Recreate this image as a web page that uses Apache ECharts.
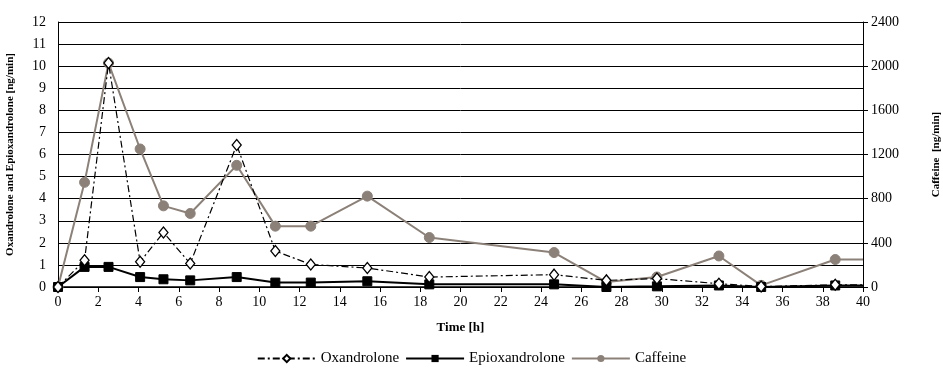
<!DOCTYPE html>
<html><head><meta charset="utf-8">
<script src="https://cdn.jsdelivr.net/npm/echarts@6/dist/echarts.min.js"></script>
<style>html,body{margin:0;padding:0;background:#fff}#c{width:943px;height:372px}</style>
</head><body><div id="c"></div>
<script>
const times = [0, 1.32, 2.51, 4.08, 5.24, 6.57, 8.88, 10.8, 12.56, 15.37, 18.45, 24.65, 27.25, 29.76, 32.84, 34.94, 38.62, 40];
const oxandrolone = [0, 1.21, 10.14, 1.14, 2.47, 1.06, 6.43, 1.63, 1.02, 0.86, 0.45, 0.56, 0.30, 0.38, 0.15, 0.02, 0.1, 0.1];
const epioxandrolone = [0, 0.91, 0.91, 0.45, 0.35, 0.30, 0.45, 0.2, 0.2, 0.26, 0.12, 0.12, 0.0, 0.03, 0.07, 0.0, 0.07, 0.07];
const caffeine = [0, 948, 2028, 1250, 735, 666, 1102, 551, 551, 823, 448, 312, 45, 91, 281, 15, 249, 249];
const seriesNames = ['Oxandrolone', 'Epioxandrolone', 'Caffeine'];

const F = 'Liberation Serif';
const pair = (arr) => arr.map((v, i) => {
  const d = {value: [times[i], v]};
  if (i === times.length - 1) d.symbol = 'none';
  return d;
});
const chart = echarts.init(document.getElementById('c'), null, {renderer: 'canvas'});
chart.setOption({
  animation: false,
  textStyle: {fontFamily: F, color: '#000'},
  grid: {left: 58, right: 80, top: 22, bottom: 85, containLabel: false, outerBoundsMode: 'none'},
  legend: {
    bottom: 1, left: 'center', itemWidth: 58, itemHeight: 9, itemGap: 6,
    textStyle: {fontFamily: F, fontSize: 15, color: '#000'},
    data: seriesNames
  },
  xAxis: {
    type: 'value', min: 0, max: 40, interval: 2,
    name: 'Time [h]', nameLocation: 'middle', nameGap: 34,
    nameTextStyle: {fontFamily: F, fontSize: 13, fontWeight: 'bold', color: '#000'},
    axisLine: {lineStyle: {color: '#000', width: 1.5}},
    axisTick: {show: true, inside: false, length: 5, lineStyle: {color: '#000'}},
    axisLabel: {fontFamily: F, fontSize: 14, color: '#000', margin: 8},
    splitLine: {show: false}
  },
  yAxis: [{
    type: 'value', min: 0, max: 12, interval: 1,
    name: 'Oxandrolone and Epioxandrolone [ng/min]', nameLocation: 'middle', nameGap: 42, nameRotate: 90,
    nameTextStyle: {fontFamily: F, fontSize: 11, fontWeight: 'bold', color: '#000'},
    axisLine: {show: true, lineStyle: {color: '#000', width: 1}},
    axisTick: {show: false},
    axisLabel: {fontFamily: F, fontSize: 14, color: '#000', margin: 12},
    splitLine: {show: true, lineStyle: {color: '#000', width: 1}}
  }, {
    type: 'value', min: 0, max: 2400, interval: 400, position: 'right',
    name: 'Caffeine  [ng/min]', nameLocation: 'middle', nameGap: 68, nameRotate: 90,
    nameTextStyle: {fontFamily: F, fontSize: 11, fontWeight: 'bold', color: '#000'},
    axisLine: {show: true, lineStyle: {color: '#000', width: 1}},
    axisTick: {show: true, inside: false, length: 5, lineStyle: {color: '#000'}},
    axisLabel: {fontFamily: F, fontSize: 14, color: '#000', margin: 8, formatter: v => String(v)},
    splitLine: {show: false}
  }],
  series: [{
    name: seriesNames[2], type: 'line', yAxisIndex: 1, data: pair(caffeine),
    symbol: 'circle', symbolSize: 10, z: 2,
    lineStyle: {color: '#8c8178', width: 2},
    itemStyle: {color: '#8c8178', borderColor: '#8c8178'}
  }, {
    name: seriesNames[1], type: 'line', yAxisIndex: 0, data: pair(epioxandrolone),
    symbol: 'rect', symbolSize: 9, z: 3,
    lineStyle: {color: '#000', width: 2},
    itemStyle: {color: '#000', borderColor: '#000'}
  }, {
    name: seriesNames[0], type: 'line', yAxisIndex: 0, data: pair(oxandrolone),
    symbol: 'diamond', symbolSize: [9, 11], z: 4,
    lineStyle: {color: '#000', width: 1.2, type: [7, 3, 2, 3]},
    itemStyle: {color: '#fff', borderColor: '#000', borderWidth: 1.3}
  }]
});
</script></body></html>
